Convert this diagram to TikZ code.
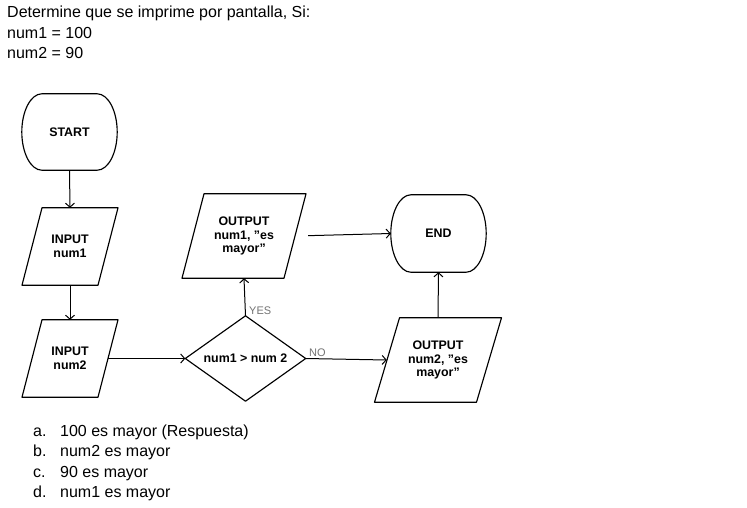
\documentclass[tikz,border=0pt]{standalone}
\usepackage{fontspec}
\setmainfont{Liberation Sans}
\usetikzlibrary{arrows.meta}
\tikzset{
  shp/.style={draw=black, line width=1.15pt, line join=round},
  box/.style={draw=none, inner sep=0pt, align=center, font=\fontsize{12.4}{13.5}\selectfont\bfseries},
  arr/.style={draw=black, line width=1pt, -{Straight Barb[length=4pt,width=9pt]}},
  txt/.style={anchor=base west, inner sep=0pt, font=\fontsize{16}{20}\selectfont},
  lbl/.style={anchor=west, inner sep=0pt, text=black!55, font=\fontsize{11}{12}\selectfont}
}
\newcommand\qq{\char"22}
\newcommand\termdraw[1]{\draw[shp] ([xshift=20pt]#1.north west) -- ([xshift=-20pt]#1.north east)
  .. controls +(11pt,0pt) and +(0pt,21pt) .. (#1.east)
  .. controls +(0pt,-21pt) and +(11pt,0pt) .. ([xshift=-20pt]#1.south east)
  -- ([xshift=20pt]#1.south west)
  .. controls +(-11pt,0pt) and +(0pt,-21pt) .. (#1.west)
  .. controls +(0pt,21pt) and +(-11pt,0pt) .. ([xshift=20pt]#1.north west) -- cycle;}
\newcommand\paradraw[3]{\draw[shp] ([xshift={(#3-#2)*1pt}]#1.north) -- ([xshift={(#3+#2)*1pt}]#1.north)
  -- ([xshift={(#2-#3)*1pt}]#1.south) -- ([xshift={(-#2-#3)*1pt}]#1.south) -- cycle;}
\begin{document}
\begin{tikzpicture}[x=1pt,y=-1pt]
\useasboundingbox[fill=white] (0,0) rectangle (747,507);
% texts
\node[txt] (t1) at (7,17) {Determine que se imprime por pantalla, Si:};
\node[txt] (t2) at (7,38) {num1 = 100};
\node[txt] (t3) at (7,58) {num2 = 90};
\node[txt] (oa) at (33,436) {a.};
\node[txt] (ta) at (60,436) {100 es mayor (Respuesta)};
\node[txt] (ob) at (33,456) {b.};
\node[txt] (tb) at (60,456) {num2 es mayor};
\node[txt] (oc) at (33,477) {c.};
\node[txt] (tc) at (60,477) {90 es mayor};
\node[txt] (od) at (33,497) {d.};
\node[txt] (td) at (60,497) {num1 es mayor};
% nodes
\node[box, minimum width=95pt, minimum height=76pt] (start) at (69.5,132) {START};
\node[box, minimum width=76pt, minimum height=77pt] (in1) at (70,246.5) {INPUT\\num1};
\node[box, minimum width=76pt, minimum height=77pt] (in2) at (70,358.5) {INPUT\\num2};
\node[box, minimum width=120pt, minimum height=85pt] (dec) at (245.5,358.5) {num1 > num 2};
\node[box, minimum width=102pt, minimum height=84pt] (out1) at (244,236) {OUTPUT\\num1, \qq es\\mayor\qq};
\node[box, minimum width=102pt, minimum height=84pt] (out2) at (438,360) {OUTPUT\\num2, \qq es\\mayor\qq};
\node[box, minimum width=95pt, minimum height=77pt] (fin) at (438.5,233.5) {END};
% shapes
\termdraw{start}
\termdraw{fin}
\paradraw{in1}{38}{10}
\paradraw{in2}{38}{10}
\paradraw{out1}{51}{11}
\paradraw{out2}{51}{12.5}
\draw[shp] (dec.west) -- (dec.north) -- (dec.east) -- (dec.south) -- cycle;
% connectors
\draw[arr] (start.south) -- (in1.north);
\draw[arr] (in1.south) -- (in2.north);
\draw[arr] (in2.east) -- (dec.west);
\draw[arr] (dec.north) -- (out1.south);
\draw[arr] (dec.east) -- (out2.west);
\draw[arr, shorten <=13pt] (out1.east) -- (fin.west);
\draw[arr] (out2.north) -- (fin.south);
% labels
\node[lbl] (yes) at (249,311) {YES};
\node[lbl] (no) at (309,353) {NO};
\end{tikzpicture}
\end{document}
